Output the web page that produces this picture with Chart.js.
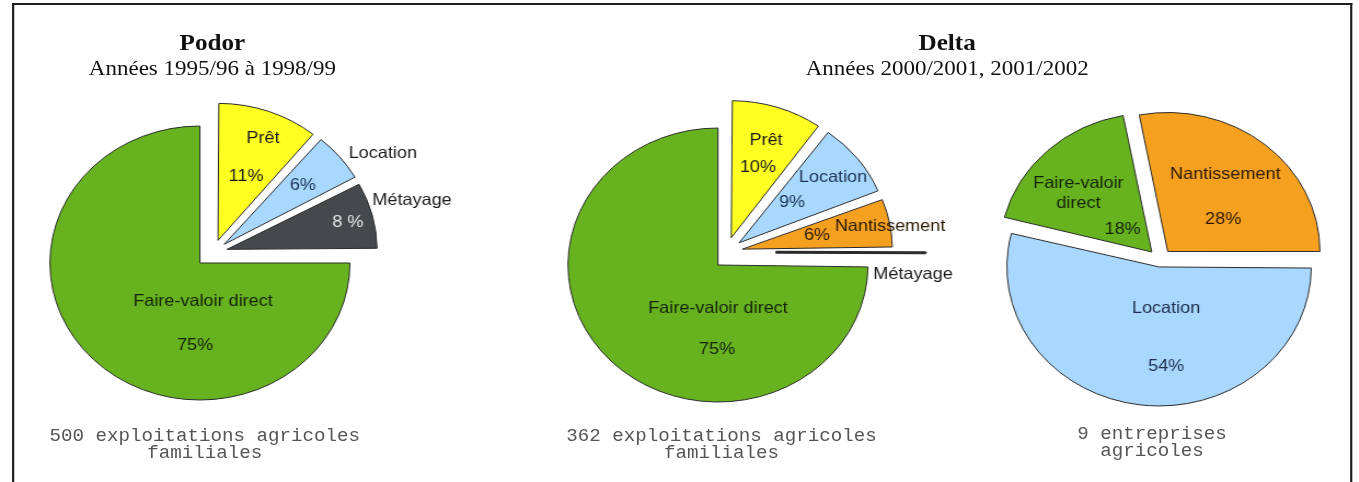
<!DOCTYPE html>
<html>
<head>
<meta charset="utf-8">
<script src="https://cdn.jsdelivr.net/npm/chart.js@4"></script>
<style>
  body { margin: 0; background: #fff; overflow: hidden; }
  /* the source picture is stretched sideways, so the whole page is too */
  #page { position: relative; width: 1241px; height: 482px; transform: scaleX(1.095); transform-origin: 0 0; }
  #frame { position: absolute; left: 11px; top: 3px; width: 1220px; height: 490px; border: 2px solid #1e1e1e; border-bottom: none; }
  canvas { position: absolute; left: 0; top: 0; }
  .title { position: absolute; transform: translateX(-50%); white-space: nowrap; font-family: "Liberation Serif", "Times New Roman", serif; color: #111; }
  .title b { display: block; text-align: center; font-size: 23px; line-height: 23px; }
  .title span { display: block; text-align: center; font-size: 21px; line-height: 29px; }
  .caption { position: absolute; transform: translateX(-50%); white-space: pre; text-align: center;
    font-family: "Liberation Mono", "Courier New", monospace; font-size: 17.5px; line-height: 17px; color: #555; }
</style>
</head>
<body>
<div id="page">
  <div id="frame"></div>
  <div class="title" style="left:194px; top:31px"><b>Podor</b><span>Années 1995/96 à 1998/99</span></div>
  <div class="title" style="left:865px; top:31px"><b>Delta</b><span>Années 2000/2001, 2001/2002</span></div>
  <div class="caption" style="left:187px; top:428px">500 exploitations agricoles
familiales</div>
  <div class="caption" style="left:659px; top:428px">362 exploitations agricoles
familiales</div>
  <div class="caption" style="left:1052px; top:426px">9 entreprises
agricoles</div>
</div>

<script>
// Data
const podorLabels = ['Prêt', 'Location', 'Métayage', 'Faire-valoir direct'];
const podorValues = [11, 6, 8, 75];
const podorColors = ['#ffff22', '#a8d8ff', '#45494b', '#66b21f'];

const deltaFamLabels = ['Prêt', 'Location', 'Nantissement', 'Métayage', 'Faire-valoir direct'];
const deltaFamValues = [10, 9, 6, 0.3, 75];
const deltaFamColors = ['#ffff22', '#a8d8ff', '#f5a01e', '#111111', '#66b21f'];

const deltaEntLabels = ['Nantissement', 'Location', 'Faire-valoir direct'];
const deltaEntValues = [28, 54, 18];
const deltaEntColors = ['#f5a01e', '#a8d8ff', '#66b21f'];

// Text on/near each slice: slice index, lines, angle (deg from north), radius fraction from the slice tip
const podorText = [
  { slice: 0, lines: ['Prêt'], angle: 21.9, r: 0.805 },
  { slice: 0, lines: ['11%'], angle: 21.7, r: 0.506 },
  { slice: 1, lines: ['Location'], angle: 57.8, r: 1.25 },
  { slice: 1, lines: ['6%'], angle: 50.5, r: 0.68, color: '#1d3350' },
  { slice: 2, lines: ['Métayage'], angle: 73.7, r: 1.285 },
  { slice: 2, lines: ['8 %'], angle: 76.1, r: 0.83, color: '#e6e6e6' },
  { slice: 3, lines: ['Faire-valoir direct'], angle: 175.9, r: 0.285, color: '#15220a' },
  { slice: 3, lines: ['75%'], angle: 183.1, r: 0.60, color: '#15220a' }
];
const deltaFamText = [
  { slice: 0, lines: ['Prêt'], angle: 18.0, r: 0.75 },
  { slice: 0, lines: ['10%'], angle: 19.0, r: 0.546 },
  { slice: 1, lines: ['Location'], angle: 52.5, r: 0.789, color: '#1d3350' },
  { slice: 1, lines: ['9%'], angle: 50.5, r: 0.457, color: '#1d3350' },
  { slice: 2, lines: ['Nantissement'], angle: 80.3, r: 0.999, color: '#2a1a05' },
  { slice: 2, lines: ['6%'], angle: 78.3, r: 0.508, color: '#2a1a05' },
  { slice: 3, lines: ['Métayage'], angle: 99.9, r: 0.931 },
  { slice: 4, lines: ['Faire-valoir direct'], angle: 180, r: 0.314, color: '#15220a' },
  { slice: 4, lines: ['75%'], angle: 180.6, r: 0.62, color: '#15220a' }
];
const deltaEntText = [
  { slice: 0, lines: ['Nantissement'], angle: 34.4, r: 0.67, color: '#2a1a05' },
  { slice: 0, lines: ['28%'], angle: 58, r: 0.43, color: '#2a1a05' },
  { slice: 1, lines: ['Location'], angle: 171.3, r: 0.305, color: '#1d2e4a' },
  { slice: 1, lines: ['54%'], angle: 176.3, r: 0.72, color: '#1d2e4a' },
  { slice: 2, lines: ['Faire-valoir', 'direct'], angle: 311.1, r: 0.64, color: '#15220a' },
  { slice: 2, lines: ['18%'], angle: 309.9, r: 0.25, color: '#15220a' }
];

// Chart.js moves an offset slice by offset/4 and also grows it; undo the growth
const keepRadius = {
  id: 'keepRadius',
  afterDatasetUpdate(chart, args) {
    args.meta.data.forEach(arc => {
      const shift = (arc.options.offset || 0) / 4;
      const fix = 1 - Math.sin(Math.min(Math.PI, arc.circumference));
      arc.outerRadius -= shift * fix;
    });
  }
};

const sliceText = {
  id: 'sliceText',
  afterDatasetsDraw(chart, args, opts) {
    const meta = chart.getDatasetMeta(0);
    const R = meta.controller.outerRadius;
    const ctx = chart.ctx;
    ctx.save();
    ctx.textAlign = 'center';
    ctx.textBaseline = 'middle';
    ctx.font = '16.5px "Liberation Sans", Arial, sans-serif';
    opts.items.forEach(item => {
      const arc = meta.data[item.slice];
      const mid = (arc.startAngle + arc.endAngle) / 2;
      const shift = (arc.options.offset || 0) / 4;
      const vx = arc.x + Math.cos(mid) * shift;
      const vy = arc.y + Math.sin(mid) * shift;
      const a = (item.angle - 90) * Math.PI / 180;
      const x = vx + Math.cos(a) * item.r * R;
      const y = vy + Math.sin(a) * item.r * R;
      ctx.fillStyle = item.color || '#1a1a1a';
      item.lines.forEach((line, i) => {
        ctx.fillText(line, x, y + (i - (item.lines.length - 1) / 2) * 20);
      });
    });
    ctx.restore();
  }
};

// One chart per group of slices that is pulled out together; other slices are left see-through
function addPie(labels, values, colors, shown, offsets, borders, text, center, radius, rotation) {
  const canvas = document.createElement('canvas');
  canvas.width = 1241;
  canvas.height = 482;
  document.getElementById('page').appendChild(canvas);
  const W = canvas.width, H = canvas.height;
  new Chart(canvas, {
    type: 'pie',
    data: {
      labels: labels,
      datasets: [{
        data: values,
        backgroundColor: colors.map((c, i) => shown[i] ? c : 'rgba(0,0,0,0)'),
        borderColor: '#2b2b2b',
        borderWidth: borders.map((b, i) => shown[i] ? b : 0),
        offset: offsets.map(d => d * 4)
      }]
    },
    options: {
      responsive: false,
      animation: false,
      events: [],
      rotation: rotation,
      radius: radius,
      layout: { padding: { left: center[0] - 150, right: W - center[0] - 150, top: center[1] - 150, bottom: H - center[1] - 150 } },
      plugins: {
        legend: { display: false },
        tooltip: { enabled: false },
        sliceText: { items: text.filter(t => shown[t.slice]) }
      }
    },
    plugins: [keepRadius, sliceText]
  });
}

// Podor
addPie(podorLabels, podorValues, podorColors, [false, false, false, true], [0, 0, 0, 0], [1, 1, 1, 1],
  podorText, [182.6, 263], 137, 0);
addPie(podorLabels, podorValues, podorColors, [true, true, true, false], [13, 13, 13, 0], [1, 1, 1, 1],
  podorText, [194.7, 252.6], 137, 0);

// Delta, family farms
addPie(deltaFamLabels, deltaFamValues, deltaFamColors, [false, false, false, false, true], [0, 0, 0, 0, 0], [1, 1, 1, 3, 1],
  deltaFamText, [655.7, 265], 137, 0);
addPie(deltaFamLabels, deltaFamValues, deltaFamColors, [true, true, true, true, false], [15, 15, 15, 45, 0], [1, 1, 1, 3, 1],
  deltaFamText, [663.2, 252], 137, 0);

// Delta, companies
addPie(deltaEntLabels, deltaEntValues, deltaEntColors, [true, true, true], [11, 7, 11], [1, 1, 1],
  deltaEntText, [1059.4, 260], 139, -10.8);
</script>
</body>
</html>
